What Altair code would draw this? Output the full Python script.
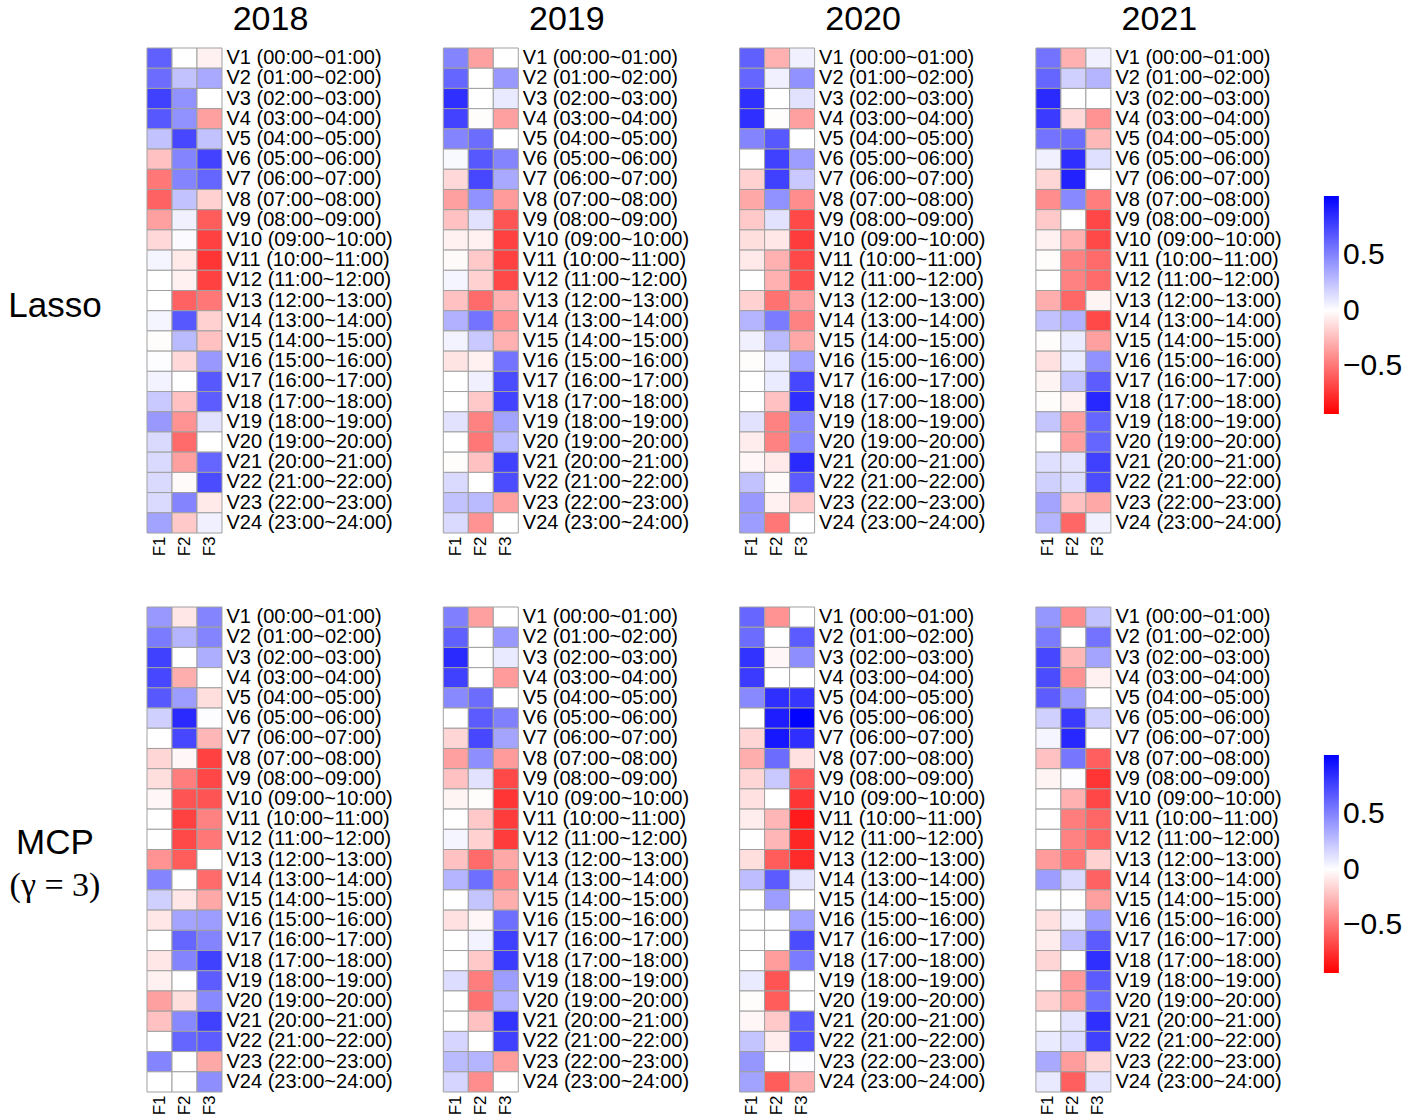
import altair as alt
import pandas as pd

FACTORS = ["F1", "F2", "F3"]
YEARS = ["2018", "2019", "2020", "2021"]
HOURS = [
    "00:00~01:00", "01:00~02:00", "02:00~03:00", "03:00~04:00",
    "04:00~05:00", "05:00~06:00", "06:00~07:00", "07:00~08:00",
    "08:00~09:00", "09:00~10:00", "10:00~11:00", "11:00~12:00",
    "12:00~13:00", "13:00~14:00", "14:00~15:00", "15:00~16:00",
    "16:00~17:00", "17:00~18:00", "18:00~19:00", "19:00~20:00",
    "20:00~21:00", "21:00~22:00", "22:00~23:00", "23:00~24:00",
]
VARIABLES = [f"V{i} ({h})" for i, h in enumerate(HOURS, start=1)]

# Loadings (V1..V24) of the three factors, Lasso estimates
LASSO_2018 = dict(
    F1=[0.65, 0.6, 0.78, 0.68, 0.25, -0.23, -0.5, -0.58, -0.35, -0.14, 0.04, 0, 0, 0.04, -0.01, 0.01, 0.05, 0.22, 0.42, 0.15, 0.15, 0.15, 0.15, 0.38],
    F2=[0, 0.25, 0.45, 0.45, 0.75, 0.5, 0.5, 0.25, 0.06, 0.02, -0.08, -0.05, -0.58, 0.68, 0.28, -0.14, 0, -0.23, -0.4, -0.55, -0.35, -0.02, 0.5, -0.2],
    F3=[-0.05, 0.35, 0, -0.35, 0.25, 0.77, 0.63, -0.17, -0.6, -0.7, -0.75, -0.7, -0.5, -0.17, -0.23, 0.42, 0.68, 0.66, 0.12, 0, 0.63, 0.73, -0.08, 0.06],
)
LASSO_2019 = dict(
    F1=[0.5, 0.63, 0.85, 0.77, 0.5, 0.03, -0.14, -0.35, -0.23, -0.05, -0.02, 0.04, -0.23, 0.32, 0.05, -0.1, 0, 0, 0.12, 0, -0.01, 0.15, 0.25, 0.15],
    F2=[-0.35, 0, 0, -0.01, 0.6, 0.68, 0.75, 0.45, 0.12, -0.05, -0.2, -0.17, -0.55, 0.57, 0.22, -0.05, 0.06, -0.2, -0.46, -0.5, -0.23, 0, 0.28, -0.4],
    F3=[0, 0.42, 0.09, -0.35, 0, 0.5, 0.35, -0.37, -0.63, -0.7, -0.7, -0.67, -0.29, -0.4, -0.29, 0.57, 0.73, 0.77, 0.38, 0.28, 0.78, 0.73, -0.35, 0],
)
LASSO_2020 = dict(
    F1=[0.65, 0.63, 0.85, 0.85, 0.5, 0, -0.17, -0.32, -0.2, -0.12, -0.08, 0, -0.17, 0.3, 0.06, -0.01, 0, 0, 0.12, -0.07, -0.03, 0.25, 0.42, 0.4],
    F2=[-0.29, 0.06, 0, -0.01, 0.68, 0.78, 0.78, 0.45, 0.12, -0.09, -0.29, -0.29, -0.52, 0.54, 0.28, 0.08, 0.08, -0.23, -0.46, -0.46, -0.08, -0.02, -0.05, -0.5],
    F3=[0.06, 0.45, 0.12, -0.35, 0, 0.4, 0.22, -0.42, -0.67, -0.72, -0.67, -0.65, -0.35, -0.46, -0.32, 0.38, 0.75, 0.85, 0.48, 0.48, 0.87, 0.67, -0.2, 0],
)
LASSO_2021 = dict(
    F1=[0.57, 0.63, 0.87, 0.8, 0.57, 0.06, -0.15, -0.42, -0.2, -0.05, -0.01, 0, -0.3, 0.25, -0.01, -0.11, -0.04, -0.01, 0.24, 0, 0.13, 0.19, 0.37, 0.3],
    F2=[-0.29, 0.19, 0, -0.14, 0.6, 0.85, 0.9, 0.48, 0, -0.29, -0.46, -0.46, -0.56, 0.32, 0.08, 0.08, 0.24, -0.05, -0.35, -0.35, 0.11, 0.14, -0.23, -0.56],
    F3=[0.06, 0.3, 0, -0.4, -0.26, 0.13, 0, -0.48, -0.68, -0.67, -0.55, -0.55, -0.04, -0.67, -0.35, 0.45, 0.66, 0.88, 0.63, 0.63, 0.78, 0.73, -0.32, 0.06],
)

# Loadings of the three factors, MCP (gamma = 3) estimates
MCP_2018 = dict(
    F1=[0.42, 0.54, 0.78, 0.75, 0.68, 0.19, 0, -0.15, -0.12, -0.03, 0, 0, -0.4, 0.5, 0.19, -0.09, 0, -0.09, -0.05, -0.35, -0.23, 0, 0.5, 0],
    F2=[-0.09, 0.3, 0, -0.3, 0.4, 0.87, 0.75, -0.03, -0.48, -0.63, -0.7, -0.67, -0.6, 0, -0.09, 0.37, 0.63, 0.5, 0, -0.12, 0.48, 0.63, 0, 0],
    F3=[0.5, 0.5, 0.33, 0, -0.12, 0.01, -0.27, -0.7, -0.68, -0.63, -0.46, -0.5, 0, -0.55, -0.32, 0.4, 0.5, 0.78, 0.66, 0.48, 0.78, 0.66, -0.32, 0.46],
)
MCP_2019 = dict(
    F1=[0.52, 0.65, 0.87, 0.78, 0.48, 0, -0.15, -0.35, -0.23, -0.04, 0, 0.04, -0.23, 0.3, 0, -0.11, 0, 0, 0.14, 0, 0, 0.17, 0.28, 0.17],
    F2=[-0.35, 0, 0, 0, 0.6, 0.67, 0.75, 0.46, 0.12, -0.01, -0.2, -0.17, -0.55, 0.59, 0.24, -0.03, 0.05, -0.2, -0.48, -0.52, -0.23, 0, 0.3, -0.42],
    F3=[0, 0.42, 0.09, -0.37, 0, 0.52, 0.37, -0.37, -0.67, -0.75, -0.72, -0.72, -0.32, -0.43, -0.3, 0.59, 0.78, 0.8, 0.4, 0.32, 0.83, 0.78, -0.36, 0],
)
MCP_2020 = dict(
    F1=[0.62, 0.6, 0.83, 0.8, 0.48, 0, -0.15, -0.3, -0.15, -0.11, -0.07, 0, -0.12, 0.27, 0, 0, 0, 0, 0.08, -0.01, -0.03, 0.24, 0.43, 0.38],
    F2=[-0.4, 0, -0.03, 0, 0.85, 0.92, 0.95, 0.6, 0.22, 0, -0.27, -0.27, -0.6, 0.67, 0.4, 0, 0, -0.36, -0.63, -0.6, -0.2, -0.07, 0, -0.6],
    F3=[0, 0.67, 0.46, 0, 0.82, 1.03, 0.85, -0.11, -0.6, -0.75, -0.84, -0.8, -0.78, 0.11, 0, 0.38, 0.73, 0.54, 0, 0, 0.68, 0.7, 0.01, -0.3],
)
MCP_2021 = dict(
    F1=[0.43, 0.54, 0.75, 0.73, 0.66, 0.19, 0.04, -0.23, -0.04, 0, 0, 0, -0.37, 0.4, 0, -0.11, -0.07, -0.15, 0, -0.17, 0, 0.08, 0.35, 0.09],
    F2=[-0.42, 0, -0.26, -0.4, 0.4, 0.8, 0.88, 0.56, 0.01, -0.29, -0.48, -0.46, -0.5, 0.15, 0, 0.06, 0.27, 0, -0.37, -0.34, 0.11, 0.14, -0.36, -0.59],
    F3=[0.25, 0.57, 0.37, -0.05, 0, 0.19, 0, -0.59, -0.75, -0.68, -0.56, -0.56, -0.17, -0.58, -0.35, 0.4, 0.67, 0.85, 0.67, 0.59, 0.85, 0.78, -0.15, 0.11],
)

ROWS = [
    ("Lasso", [LASSO_2018, LASSO_2019, LASSO_2020, LASSO_2021]),
    ("MCP", [MCP_2018, MCP_2019, MCP_2020, MCP_2021]),
]

SANS = "Liberation Sans"
SERIF = "Liberation Serif"
CELL_W, CELL_H = 75, 485

COLOR_SCALE = alt.Scale(
    domain=[-0.94, 0, 1.04],
    range=["#ff0000", "#ffffff", "#0000ff"],
    interpolate="rgb",
)


def long_table(loadings):
    rows = []
    for f in FACTORS:
        for var, val in zip(VARIABLES, loadings[f]):
            rows.append({"factor": f, "variable": var, "value": val})
    return pd.DataFrame(rows)


def side_label(text, y, font, size):
    return alt.Chart(pd.DataFrame({"t": [text]})).mark_text(
        font=font, fontSize=size, color="black", align="center", baseline="middle"
    ).encode(text="t:N", x=alt.value(-92), y=alt.value(y))


def panel(method, loadings, col, top_row):
    if col == 3:
        legend = alt.Legend(
            orient="none", legendX=288, legendY=148, direction="vertical",
            gradientLength=218, gradientThickness=15, gradientStrokeWidth=0,
            values=[-0.5, 0, 0.5], format=".1~f", title=None, padding=0,
            labelFont=SANS, labelFontSize=30, labelColor="black", labelOffset=4,
        )
    else:
        legend = None
    heat = alt.Chart(long_table(loadings)).mark_rect(
        stroke="#a0a0a0", strokeWidth=1
    ).encode(
        x=alt.X("factor:N", sort=FACTORS, title=None,
                axis=alt.Axis(orient="bottom", labelAngle=-90, ticks=False, domain=False,
                              labelFont=SANS, labelFontSize=17, labelColor="black",
                              labelPadding=3)),
        y=alt.Y("variable:N", sort=VARIABLES, title=None,
                axis=alt.Axis(orient="right", ticks=False, domain=False, labelOverlap=False,
                              labelFont=SANS, labelFontSize=20, labelColor="black",
                              labelPadding=4, labelLimit=300)),
        color=alt.Color("value:Q", scale=COLOR_SCALE, legend=legend),
    )
    layers = [heat]
    if col == 0:
        if method == "Lasso":
            layers.append(side_label("Lasso", 258, SANS, 35))
        else:
            layers.append(side_label("MCP", 236, SANS, 35))
            layers.append(side_label("(γ = 3)", 279, SERIF, 34))
    chart = alt.layer(*layers).properties(width=CELL_W, height=CELL_H)
    if top_row:
        chart = chart.properties(title=alt.TitleParams(
            text=YEARS[col], font=SANS, fontSize=34, fontWeight="normal",
            color="black", anchor="middle", frame="group", dx=86, offset=11,
        ))
    return chart


panels = []
for r, (method, sets) in enumerate(ROWS):
    for c, loadings in enumerate(sets):
        panels.append(panel(method, loadings, c, r == 0))

chart = alt.concat(
    *panels, columns=4, spacing={"row": 74, "column": 221.3}, bounds="flush"
).resolve_scale(
    color="independent"
).properties(
    padding={"left": 8, "top": 2, "right": 5, "bottom": 5},
    background="white",
).configure_view(stroke=None)

chart.save("out.html", embed_options={"renderer": "svg", "actions": False})
